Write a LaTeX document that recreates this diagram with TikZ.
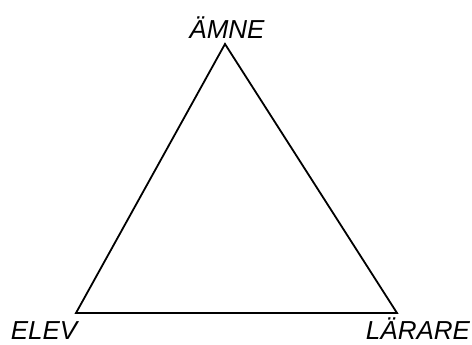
\documentclass[tikz,border=0pt]{standalone}
\usepackage{fontspec}
\setmainfont{Liberation Sans}
\tikzset{
  lbl/.style={anchor=base, inner sep=0pt, font=\fontsize{26}{30}\selectfont\itshape},
  edge/.style={line width=1.8pt, line join=miter}
}
\begin{document}
\begin{tikzpicture}[x=1pt,y=1pt]
\useasboundingbox (0,0) rectangle (472,345);
\coordinate (amne) at (225,301);
\coordinate (elev) at (76,32);
\coordinate (larare) at (397,32);
\draw[edge] (amne) -- (elev) -- (larare) -- cycle;
\node[lbl] (tamne) at (227,306) {ÄMNE};
\node[lbl] (telev) at (44,5) {ELEV};
\node[lbl] (tlarare) at (418,5) {LÄRARE};
\end{tikzpicture}
\end{document}
